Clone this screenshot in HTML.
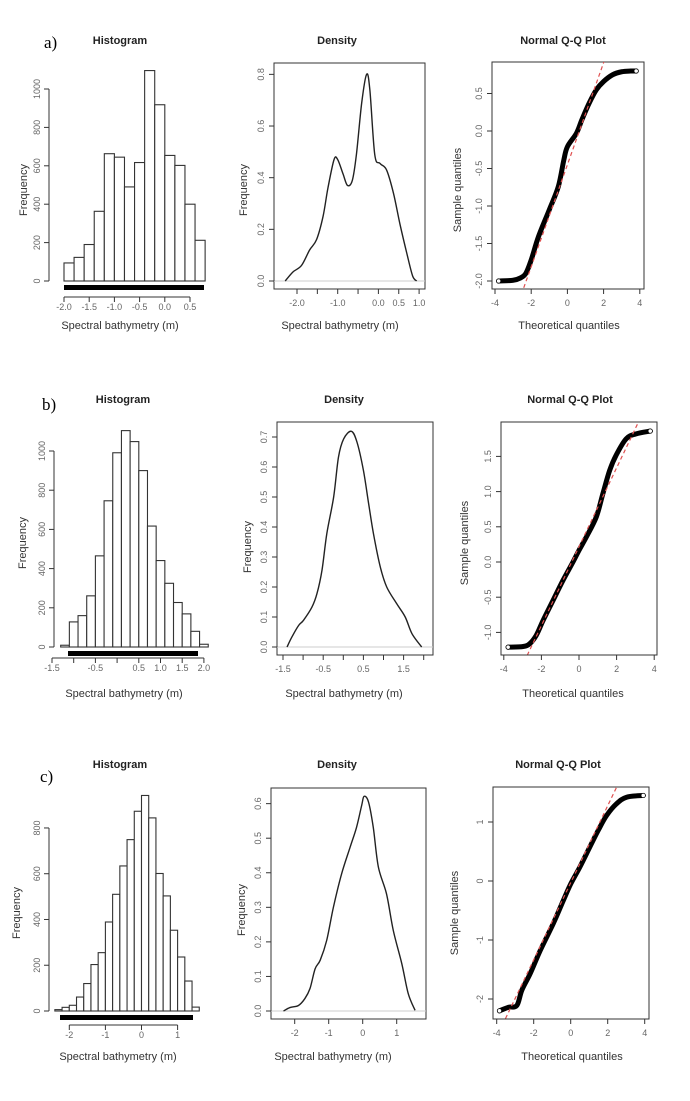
<!DOCTYPE html>
<html><head><meta charset="utf-8"><style>
html,body{margin:0;padding:0;background:#fff;}
svg{display:block;font-family:"Liberation Sans",sans-serif;}
</style></head><body>
<svg id="fig" width="690" height="1101" viewBox="0 0 690 1101" xmlns="http://www.w3.org/2000/svg"></svg>
<script>
// ---- data ----
const histA_start = -2.0, histA_width = 0.2;
const histA_freq = [94,123,190,363,663,645,490,617,1096,918,654,602,400,212];
const histB_start = -1.3, histB_width = 0.2;
const histB_freq = [9,128,160,261,465,746,991,1104,1048,900,617,441,325,227,169,80,14];
const histC_start = -2.4, histC_width = 0.2;
const histC_freq = [6,16,25,61,120,203,255,389,510,634,749,873,942,844,601,503,353,236,131,17];

const densA_x = [-2.29,-2.1,-1.89,-1.69,-1.52,-1.36,-1.24,-1.09,-1.0,-0.87,-0.76,-0.64,-0.54,-0.41,-0.29,-0.21,-0.09,0.04,0.2,0.37,0.53,0.7,0.84,0.94];
const densA_y = [0,0.035,0.06,0.12,0.16,0.25,0.36,0.47,0.47,0.415,0.37,0.39,0.49,0.69,0.80,0.74,0.49,0.455,0.43,0.34,0.22,0.106,0.02,0];
const densB_x = [-1.40,-1.28,-1.11,-0.99,-0.78,-0.655,-0.53,-0.41,-0.24,-0.12,0.01,0.2,0.34,0.5,0.63,0.75,0.92,1.08,1.33,1.54,1.71,1.95];
const densB_y = [0,0.033,0.072,0.089,0.133,0.178,0.256,0.378,0.5,0.633,0.694,0.719,0.683,0.589,0.478,0.378,0.267,0.2,0.144,0.1,0.044,0];
const densC_x = [-2.33,-2.14,-1.89,-1.70,-1.55,-1.40,-1.25,-1.06,-0.86,-0.62,-0.37,-0.18,-0.03,0.04,0.17,0.31,0.46,0.70,0.90,1.15,1.34,1.54];
const densC_y = [0,0.01,0.016,0.036,0.065,0.122,0.147,0.204,0.301,0.397,0.474,0.532,0.595,0.621,0.605,0.532,0.417,0.339,0.233,0.137,0.05,0.002];

const qqA_theo = [-3.8,-3.0,-2.6,-2.3,-2.0,-1.6,-1.0,-0.5,-0.2,0,0.5,0.8,1.2,1.6,2.0,2.5,3.0,3.5,3.8];
const qqA_sample = [-2.0,-1.99,-1.96,-1.9,-1.72,-1.41,-1.05,-0.74,-0.39,-0.21,-0.03,0.15,0.37,0.55,0.66,0.75,0.79,0.8,0.8];
const qqA_line = [-0.45,0.68];
const qqB_theo = [-3.77,-2.97,-2.62,-2.27,-1.91,-1.38,-0.85,-0.32,0,0.39,0.92,1.27,1.63,1.98,2.51,3.04,3.79];
const qqB_sample = [-1.21,-1.2,-1.16,-1.04,-0.83,-0.545,-0.26,0.0,0.166,0.355,0.64,0.97,1.30,1.52,1.75,1.82,1.86];
const qqB_line = [0.217,0.56];
const qqC_theo = [-3.85,-3.36,-2.91,-2.64,-2.19,-1.65,-0.94,-0.4,0,0.5,1.04,1.49,1.94,2.48,3.02,3.92];
const qqC_sample = [-2.2,-2.14,-2.11,-1.85,-1.57,-1.18,-0.72,-0.33,-0.05,0.24,0.58,0.86,1.11,1.31,1.42,1.45];
const qqC_line = [-0.03,0.653];

const histA_yticks = [0,200,400,600,800,1000];
const histA_xticks = [-2.0,-1.5,-1.0,-0.5,0.0,0.5];
const histA_xlabels = ["-2.0","-1.5","-1.0","-0.5","0.0","0.5"];
const histB_yticks = [0,200,400,600,800,1000];
const histB_xticks = [-1.5,-1.0,-0.5,0,0.5,1.0,1.5,2.0];
const histB_xlabels = ["-1.5","","-0.5","","0.5","1.0","1.5","2.0"];
const histC_yticks = [0,200,400,600,800];
const histC_xticks = [-2,-1,0,1];
const histC_xlabels = ["-2","-1","0","1"];
const densA_yticks = [0,0.2,0.4,0.6,0.8];
const densA_ylabels = ["0.0","0.2","0.4","0.6","0.8"];
const densA_xticks = [-2,-1.5,-1,-0.5,0,0.5,1];
const densA_xlabels = ["-2.0","","-1.0","","0.0","0.5","1.0"];
const densB_yticks = [0,0.1,0.2,0.3,0.4,0.5,0.6,0.7];
const densB_ylabels = ["0.0","0.1","0.2","0.3","0.4","0.5","0.6","0.7"];
const densB_xticks = [-1.5,-1,-0.5,0,0.5,1,1.5,2];
const densB_xlabels = ["-1.5","","-0.5","","0.5","","1.5",""];
const densC_yticks = [0,0.1,0.2,0.3,0.4,0.5,0.6];
const densC_ylabels = ["0.0","0.1","0.2","0.3","0.4","0.5","0.6"];
const densC_xticks = [-2,-1,0,1];
const densC_xlabels = ["-2","-1","0","1"];
const qqA_yticks = [-2,-1.5,-1,-0.5,0,0.5];
const qqA_ylabels = ["-2.0","-1.5","-1.0","-0.5","0.0","0.5"];
const qqB_yticks = [-1,-0.5,0,0.5,1,1.5];
const qqB_ylabels = ["-1.0","-0.5","0.0","0.5","1.0","1.5"];
const qqC_yticks = [-2,-1,0,1];
const qqC_ylabels = ["-2","-1","0","1"];
const qq_xticks = [-4,-2,0,2,4];
const qq_xlabels = ["-4","-2","0","2","4"];

// ---- drawing ----
const NS = "http://www.w3.org/2000/svg";
const svg = document.getElementById("fig");
function mk(tag, attrs, parent){
  const e = document.createElementNS(NS, tag);
  for (const k in attrs) e.setAttribute(k, attrs[k]);
  (parent||svg).appendChild(e);
  return e;
}
function smoothPath(P){
  let d = "M"+P[0][0]+","+P[0][1];
  for (let i=0;i<P.length-1;i++){
    const p0=P[Math.max(0,i-1)], p1=P[i], p2=P[i+1], p3=P[Math.min(P.length-1,i+2)];
    const c1x=p1[0]+(p2[0]-p0[0])/6, c1y=p1[1]+(p2[1]-p0[1])/6;
    const c2x=p2[0]-(p3[0]-p1[0])/6, c2y=p2[1]-(p3[1]-p1[1])/6;
    d += " C"+c1x+","+c1y+" "+c2x+","+c2y+" "+p2[0]+","+p2[1];
  }
  return d;
}
function txt(s, x, y, size, anchor, fill, rot, parent, weight){
  const t = mk("text", {x:x, y:y, "font-size":size, "text-anchor":anchor||"middle", fill:fill||"#333"}, parent);
  if (weight) t.setAttribute("font-weight", weight);
  if (rot) t.setAttribute("transform", "rotate(-90 "+x+" "+y+")");
  t.textContent = s;
  return t;
}
function yAxis(g, sx, yfn, ticks, labels, y0, y1, lx){
  const ax = mk("line", {x1:sx, x2:sx, y1:yfn(ticks[0]), y2:yfn(ticks[ticks.length-1]), stroke:"#333", "stroke-width":1}, g);
  
  
  ticks.forEach((v,i)=>{
    const tk = mk("line", {x1:sx-5, x2:sx, y1:yfn(v), y2:yfn(v), stroke:"#333"}, g);
    
    
    const t = txt(labels[i], lx, yfn(v), 9, "middle", "#666", true, g);
    
    
  });
}
function xAxis(g, sy, xfn, ticks, labels, ly){
  const ax = mk("line", {x1:xfn(ticks[0]), x2:xfn(ticks[ticks.length-1]), y1:sy, y2:sy, stroke:"#333"}, g);
  
  
  ticks.forEach((v,i)=>{
    const tk = mk("line", {x1:xfn(v), x2:xfn(v), y1:sy, y2:sy+5, stroke:"#333"}, g);
    
    
    if (labels[i]) {
      const t = txt(labels[i], xfn(v), ly, 9, "middle", "#666", false, g);
      
      
    }
  });
}

function histPanel(name, start, width, freq, xfn, yfn, yticks, xticks, xlabels, yAxX, xAxY, rug){
  const g = mk("g", {});
  
  
  freq.forEach((f,i)=>{
    const a = start + i*width, b = a + width;
    const r = mk("rect", {x:xfn(a), y:yfn(f), width:xfn(b)-xfn(a), height:yfn(0)-yfn(f), fill:"#fff", stroke:"#333", "stroke-width":1.1}, g);
    
    
  });
  const rg = mk("rect", {x:rug[0], y:rug[2], width:rug[1]-rug[0], height:rug[3]-rug[2], fill:"#000"}, g);
  
  
  yAxis(g, yAxX, yfn, yticks, yticks.map(String), 0, 0, yAxX-9);
  xAxis(g, xAxY, xfn, xticks, xlabels, xAxY+13);
}

function densPanel(name, xs, ys, xfn, yfn, box, yticks, ylabels, xticks, xlabels){
  const g = mk("g", {});
  
  
  const b = mk("rect", {x:box[0], y:box[2], width:box[1]-box[0], height:box[3]-box[2], fill:"none", stroke:"#333"}, g);
  
  
  const bl = mk("line", {x1:box[0], x2:box[1], y1:yfn(0), y2:yfn(0), stroke:"#ccc"}, g);
  
  
  const P = xs.map((x,i)=>[xfn(x), yfn(ys[i])]);
  const pl = mk("path", {d:smoothPath(P), fill:"none", stroke:"#222", "stroke-width":1.4, "stroke-linejoin":"round"}, g);
  
  
  yAxis(g, box[0], yfn, yticks, ylabels, 0, 0, box[0]-10);
  xAxis(g, box[3], xfn, xticks, xlabels, box[3]+17);
}

function qqPanel(name, th, sm, line, xfn, yfn, box, yticks, ylabels){
  const g = mk("g", {});
  
  
  const cid = name+"-clip";
  const cp = mk("clipPath", {id:cid}, g);
  mk("rect", {x:box[0], y:box[2], width:box[1]-box[0], height:box[3]-box[2]}, cp);
  const b = mk("rect", {x:box[0], y:box[2], width:box[1]-box[0], height:box[3]-box[2], fill:"none", stroke:"#333"}, g);
  
  
  const P = th.map((t,i)=>[xfn(t), yfn(sm[i])]);
  const pl = mk("path", {d:smoothPath(P), fill:"none", stroke:"#000", "stroke-width":5, "stroke-linejoin":"round", "stroke-linecap":"round"}, g);
  
  
  [0, th.length-1].forEach(i=>{
    const c = mk("circle", {cx:xfn(th[i]), cy:yfn(sm[i]), r:2.2, fill:"#fff", stroke:"#000", "stroke-width":0.8}, g);
    
    
  });
  const ln = mk("line", {x1:xfn(-5), y1:yfn(line[0]+line[1]*-5), x2:xfn(5), y2:yfn(line[0]+line[1]*5), stroke:"#e05050", "stroke-width":1.2, "stroke-dasharray":"4,3", "clip-path":"url(#"+cid+")"}, g);
  
  
  yAxis(g, box[0], yfn, yticks, ylabels, 0, 0, box[0]-10);
  xAxis(g, box[3], xfn, qq_xticks, qq_xlabels, box[3]+17);
}

// Row a
histPanel("histogram-a", histA_start, histA_width, histA_freq, v=>64+(v+2)*50.4, f=>281-f*0.192, histA_yticks, histA_xticks, histA_xlabels, 49, 297, [64,204,285,290]);
densPanel("density-a", densA_x, densA_y, v=>297+(v+2)*40.7, d=>281-d*258.3, [274,425,63,289], densA_yticks, densA_ylabels, densA_xticks, densA_xlabels);
qqPanel("qq-a", qqA_theo, qqA_sample, qqA_line, t=>567.4+t*18.1, s=>131-s*75, [492,644,62,289], qqA_yticks, qqA_ylabels);
// Row b
histPanel("histogram-b", histB_start, histB_width, histB_freq, v=>52+(v+1.5)*43.4, f=>647-f*0.196, histB_yticks, histB_xticks, histB_xlabels, 54, 658, [68,198,651,656]);
densPanel("density-b", densB_x, densB_y, v=>283+(v+1.5)*40.2, d=>647-d*300, [277,433,422,655], densB_yticks, densB_ylabels, densB_xticks, densB_xlabels);
qqPanel("qq-b", qqB_theo, qqB_sample, qqB_line, t=>579+t*18.8, s=>562-s*70.4, [501,657,422,655], qqB_yticks, qqB_ylabels);
// Row c
histPanel("histogram-c", histC_start, histC_width, histC_freq, v=>69.3+(v+2)*36.1, f=>1011-f*0.2288, histC_yticks, histC_xticks, histC_xlabels, 49, 1025, [60,193,1015,1020]);
densPanel("density-c", densC_x, densC_y, v=>294.7+(v+2)*34, d=>1011-d*345.6, [271,426,788,1019], densC_yticks, densC_ylabels, densC_xticks, densC_xlabels);
qqPanel("qq-c", qqC_theo, qqC_sample, qqC_line, t=>570.7+t*18.5, s=>881-s*59, [493,649,787,1019], qqC_yticks, qqC_ylabels);

// Titles & labels
const titles = [
 ["Histogram",120,44],["Density",337,44],["Normal Q-Q Plot",563,44],
 ["Histogram",123,403],["Density",344,403],["Normal Q-Q Plot",570,403],
 ["Histogram",120,768],["Density",337,768],["Normal Q-Q Plot",558,768]];
titles.forEach(t=>{
  const e = txt(t[0], t[1], t[2], 11, "middle", "#222", false, null, "bold");
  
  
});
const xlabs = [
 ["Spectral bathymetry (m)",120,329],["Spectral bathymetry (m)",340,329],["Theoretical quantiles",569,329],
 ["Spectral bathymetry (m)",124,697],["Spectral bathymetry (m)",344,697],["Theoretical quantiles",573,697],
 ["Spectral bathymetry (m)",118,1060],["Spectral bathymetry (m)",333,1060],["Theoretical quantiles",572,1060]];
xlabs.forEach(t=>{
  const e = txt(t[0], t[1], t[2], 11, "middle", "#333");
  
  
});
const ylabs = [
 ["Frequency",27,190],["Frequency",247,190],["Sample quantiles",461,190],
 ["Frequency",26,543],["Frequency",251,547],["Sample quantiles",468,543],
 ["Frequency",20,913],["Frequency",245,910],["Sample quantiles",458,913]];
ylabs.forEach(t=>{
  const e = txt(t[0], t[1], t[2], 11, "middle", "#333", true);
  
  
});
[["a)",44,48],["b)",42,410],["c)",40,782]].forEach(t=>{
  const e = mk("text", {x:t[1], y:t[2], "font-size":17, "font-family":"Liberation Serif, serif", fill:"#000"});
  e.textContent = t[0];
  
  
});
</script>
</body></html>
